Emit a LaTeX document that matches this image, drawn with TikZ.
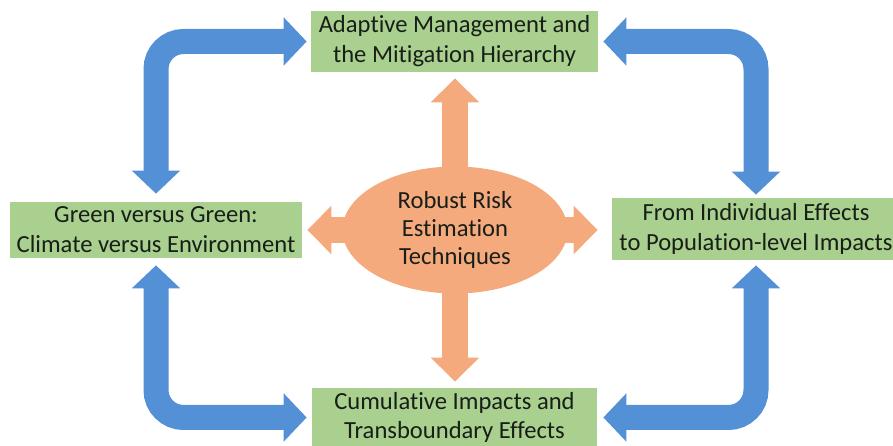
\documentclass[tikz,border=0pt]{standalone}
\usepackage{fontspec}
\setmainfont{Carlito}[Ligatures=NoCommon]
\usetikzlibrary{shapes.geometric,arrows.meta}

\definecolor{boxgreen}{RGB}{169,208,142}
\definecolor{loopblue}{RGB}{84,144,214}
\definecolor{riskorange}{RGB}{244,170,125}
\definecolor{inktext}{RGB}{24,30,24}

\begin{document}
\begin{tikzpicture}[
    theme/.style={fill=boxgreen, text=inktext, align=center, inner sep=0pt,
        minimum height=1.2cm, font=\fontsize{14}{17}\selectfont},
    loop/.style={draw=loopblue, line width=0.5cm, rounded corners=0.55cm,
        {Triangle[length=0.46cm,width=0.94cm]}-{Triangle[length=0.46cm,width=0.94cm]}},
    push/.style={draw=riskorange, line width=0.52cm, shorten <=-3pt,
        -{Triangle[length=0.48cm,width=0.94cm]}}
]
    \path [use as bounding box, fill=white] (0, 0) rectangle (17.86, 8.92);

    % the four themes
    \node [theme, minimum width=5.74cm, minimum height=1.22cm] (mitig) at (9.09, 8.09)
        {Adaptive Management and\\the Mitigation Hierarchy};
    \node [theme, minimum width=5.84cm, minimum height=1.12cm] (green) at (3.12, 4.32)
        {Green versus Green:\\Climate versus Environment};
    \node [theme, minimum width=5.76cm, minimum height=1.24cm] (popul) at (15.12, 4.34)
        {From Individual Effects\\to Population-level Impacts};
    \node [theme, minimum width=5.7cm, minimum height=1.18cm] (cumul) at (9.09, 0.57)
        {Cumulative Impacts and\\Transboundary Effects};

    % centre
    \node [ellipse, fill=riskorange, text=inktext, align=center, inner sep=0pt,
        minimum width=4.5cm, minimum height=2.54cm,
        font=\fontsize{14}{16}\selectfont] (risk) at (9.1, 4.32)
        {Robust Risk\\Estimation\\Techniques};

    \draw [push, shorten >=0.12cm] (risk.north) -- (risk.north |- mitig.south);
    \draw [push, shorten >=0.12cm] (risk.south) -- (risk.south |- cumul.north);
    \draw [push, shorten >=0.1cm] (risk.west) -- (risk.west -| green.east);
    \draw [push, shorten >=0.28cm] (risk.east) -- (risk.east -| popul.west);

    % outer loop
    \draw [loop, shorten <=0.16cm, shorten >=0.08cm] (green.north) |- (mitig.west);
    \draw [loop, shorten <=0.1cm, shorten >=0.06cm] (mitig.east) -| (popul.north);
    \draw [loop, shorten <=0.14cm, shorten >=0.1cm] (green.south) |- (cumul.west);
    \draw [loop, shorten <=0.12cm, shorten >=0.1cm] (cumul.east) -| (popul.south);
\end{tikzpicture}
\end{document}
